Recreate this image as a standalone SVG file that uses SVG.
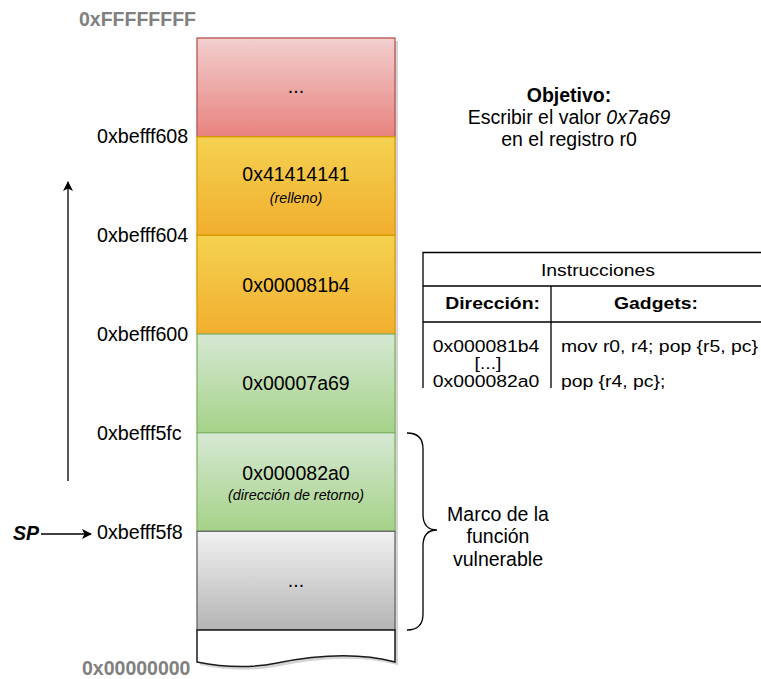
<svg xmlns="http://www.w3.org/2000/svg" width="761" height="679" viewBox="0 0 761 679">
  <style>
    text { font-family: "Liberation Sans", Arial, Helvetica, sans-serif; fill: #000; }
    .cell { font-size: 19.5px; text-anchor: middle; }
    .note { font-size: 14.3px; font-style: italic; text-anchor: middle; }
    .addr { font-size: 19.7px; }
    .limit { font-size: 19.5px; font-weight: bold; fill: #808080; }
    .tbl { font-size: 17px; }
    .line { stroke: #000; stroke-width: 1.3; fill: none; }
  </style>
  <defs>
    <linearGradient id="gRed" x1="0" y1="0" x2="0" y2="1">
      <stop offset="0" stop-color="#f2cfce"/>
      <stop offset="1" stop-color="#e8837f"/>
    </linearGradient>
    <linearGradient id="gOrange" x1="0" y1="0" x2="0" y2="1">
      <stop offset="0" stop-color="#f5d250"/>
      <stop offset="1" stop-color="#f2ae2f"/>
    </linearGradient>
    <linearGradient id="gGreen" x1="0" y1="0" x2="0" y2="1">
      <stop offset="0" stop-color="#d6e8d4"/>
      <stop offset="1" stop-color="#a5d288"/>
    </linearGradient>
    <linearGradient id="gGray" x1="0" y1="0" x2="0" y2="1">
      <stop offset="0" stop-color="#f2f2f2"/>
      <stop offset="1" stop-color="#b5b5b5"/>
    </linearGradient>
    <marker id="arrow" viewBox="0 0 10 10" refX="9" refY="5" markerWidth="10" markerHeight="10" markerUnits="userSpaceOnUse" orient="auto">
      <path d="M0,0 L10,5 L0,10 L2.5,5 Z" fill="#000"/>
    </marker>
  </defs>

  <!-- address range limits -->
  <text class="limit" x="79" y="26">0xFFFFFFFF</text>
  <text class="limit" x="82" y="675">0x00000000</text>

  <!-- drop shadow of the stack column -->
  <g id="stack-shadow" fill="#d4d4d4">
    <rect x="200" y="41" width="198" height="590"/>
    <path d="M200,631 L398,631 L398,665 C360,655 320,658 280,666 C250,672 225,670 200,665 Z"/>
  </g>

  <!-- stack cells, top (high addresses) to bottom -->
  <g id="cell-top">
    <rect x="197" y="38" width="198" height="98.7" fill="url(#gRed)" stroke="#b85450" stroke-width="1.3"/>
    <text class="cell" x="296" y="93">...</text>
  </g>
  <g id="cell-608">
    <rect x="197" y="136.7" width="198" height="98.6" fill="url(#gOrange)" stroke="#d79b00" stroke-width="1.3"/>
    <text class="cell" x="296" y="181">0x41414141</text>
    <text class="note" x="296" y="203">(relleno)</text>
  </g>
  <g id="cell-604">
    <rect x="197" y="235.3" width="198" height="98.7" fill="url(#gOrange)" stroke="#d79b00" stroke-width="1.3"/>
    <text class="cell" x="296" y="292">0x000081b4</text>
  </g>
  <g id="cell-600">
    <rect x="197" y="334" width="198" height="98.7" fill="url(#gGreen)" stroke="#82b366" stroke-width="1.3"/>
    <text class="cell" x="296" y="390">0x00007a69</text>
  </g>
  <g id="cell-5fc">
    <rect x="197" y="432.7" width="198" height="98.6" fill="url(#gGreen)" stroke="#82b366" stroke-width="1.3"/>
    <text class="cell" x="296" y="480">0x000082a0</text>
    <text class="note" x="296" y="500">(dirección de retorno)</text>
  </g>
  <g id="cell-5f8">
    <rect x="197" y="531.3" width="198" height="98.7" fill="url(#gGray)" stroke="#666666" stroke-width="1.3"/>
    <text class="cell" x="296" y="587">...</text>
  </g>
  <g id="cell-bottom">
    <path d="M197,630 L395,630 L395,662 C357,652 317,655 277,663 C247,669 222,667 197,662 Z" fill="#fff" stroke="#1a1a1a" stroke-width="1.5"/>
  </g>

  <!-- address labels -->
  <g id="addresses">
    <text class="addr" x="97" y="143">0xbefff608</text>
    <text class="addr" x="97" y="242">0xbefff604</text>
    <text class="addr" x="97" y="341">0xbefff600</text>
    <text class="addr" x="97" y="440">0xbefff5fc</text>
    <text class="addr" x="97" y="539">0xbefff5f8</text>
  </g>

  <!-- stack pointer -->
  <g id="sp">
    <text x="13" y="540" font-size="19.5px" font-weight="bold" font-style="italic">SP</text>
  </g>

  <!-- connectors -->
  <g id="connectors">
    <line class="line" x1="68" y1="481" x2="68" y2="182" marker-end="url(#arrow)"/>
    <line class="line" x1="41" y1="534" x2="91" y2="534" marker-end="url(#arrow)"/>
  </g>

  <!-- brace marking the vulnerable function frame -->
  <g id="frame">
    <path class="line" d="M407,433 Q423,433 423,449 L423,514 Q423,530 437,530 Q423,530 423,546 L423,614 Q423,630 407,630"/>
    <text class="cell" x="498" y="521">Marco de la</text>
    <text class="cell" x="498" y="543">función</text>
    <text class="cell" x="498" y="566">vulnerable</text>
  </g>

  <!-- goal -->
  <g id="goal">
    <text class="cell" x="569" y="102" font-weight="bold">Objetivo:</text>
    <text class="cell" x="569" y="124">Escribir el valor <tspan font-style="italic">0x7a69</tspan></text>
    <text class="cell" x="569" y="146">en el registro r0</text>
  </g>

  <!-- gadget table -->
  <g id="gadget-table">
    <path class="line" stroke-width="1.5" d="M761,252.5 L423,252.5 L423,388 M423,286 L761,286 M423,322 L761,322 M551,286 L551,388"/>
    <!-- table text is set slightly wide -->
    <g transform="translate(423,0) scale(1.14,1)">
      <text class="tbl" x="153.5" y="276" text-anchor="middle">Instrucciones</text>
      <text class="tbl" x="102.6" y="309" text-anchor="end" font-weight="bold">Dirección:</text>
      <text class="tbl" x="204.4" y="309" text-anchor="middle" font-weight="bold">Gadgets:</text>
      <text class="tbl" x="55.3" y="352" text-anchor="middle">0x000081b4</text>
      <text class="tbl" x="57" y="369" text-anchor="middle">[...]</text>
      <text class="tbl" x="55.3" y="387" text-anchor="middle">0x000082a0</text>
      <text class="tbl" x="121" y="352">mov r0, r4; pop {r5, pc}</text>
      <text class="tbl" x="121" y="387">pop {r4, pc};</text>
    </g>
  </g>
</svg>
